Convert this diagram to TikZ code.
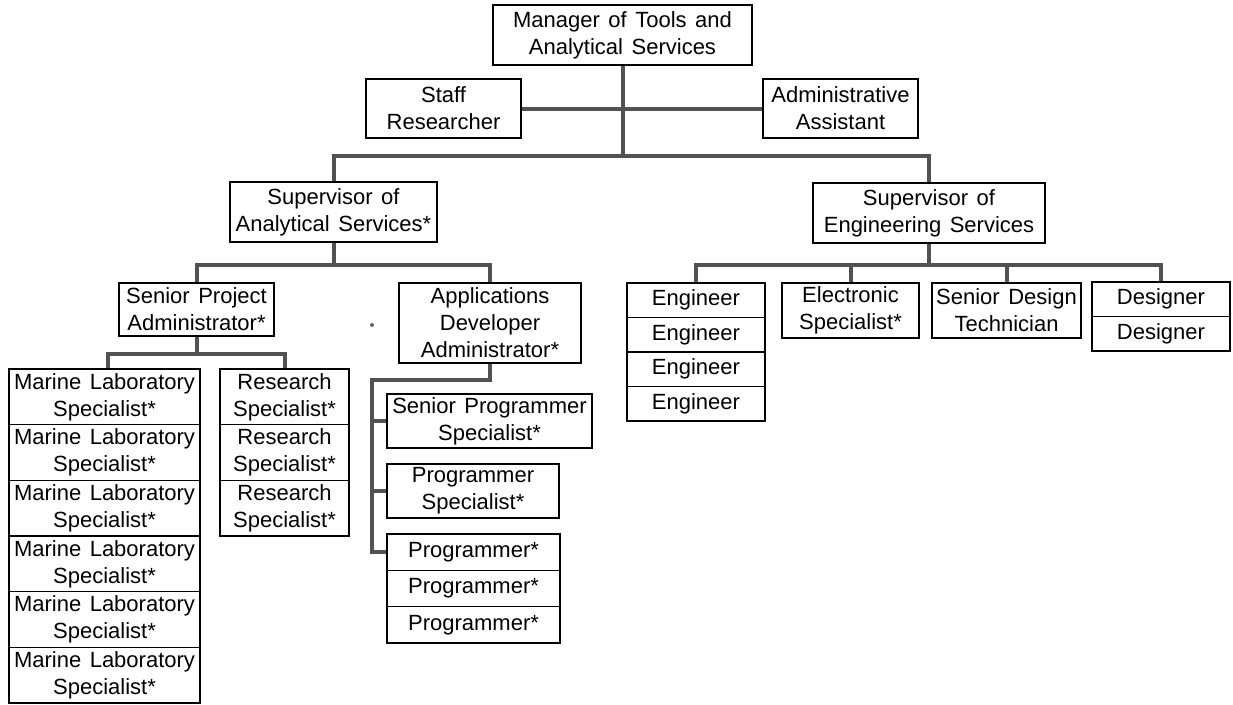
\documentclass[tikz,border=0pt]{standalone}
\usepackage{fontspec}
\setmainfont{Liberation Sans}[WordSpace=1.4]
\begin{document}
\begin{tikzpicture}[x=1pt,y=-1pt,
  box/.style={draw=black, line width=1.3pt, fill=white, align=center, inner sep=0pt,
    font=\fontsize{22}{27}\selectfont},
  conn/.style={draw=black!68, line width=4pt}]
\useasboundingbox (0,0) rectangle (1233,704);
% top
\node[box, minimum width=259pt, minimum height=60pt] (mgr) at (622.5,35) {Manager of Tools and\\Analytical Services};
\node[box, minimum width=155pt, minimum height=59pt] (staff) at (443.5,108.5) {Staff\\Researcher};
\node[box, minimum width=155pt, minimum height=59pt] (admin) at (840.5,108.5) {Administrative\\Assistant};
\node[box, minimum width=207pt, minimum height=60pt] (supA) at (333.5,212) {Supervisor of\\Analytical Services*};
\node[box, minimum width=232pt, minimum height=60pt] (supE) at (929,213) {Supervisor of\\Engineering Services};
% analytical side
\node[box, minimum width=155pt, minimum height=53pt] (spa) at (196.5,309.5) {Senior Project\\Administrator*};
\node[box, minimum width=182pt, minimum height=80pt] (ada) at (490,323) {Applications\\Developer\\Administrator*};
\foreach \i in {1,...,6}
  \node[box, minimum width=191pt, minimum height=55.67pt] (m\i) at (104.5,{369+55.67*(\i-0.5)}) {Marine Laboratory\\Specialist*};
\foreach \i in {1,...,3}
  \node[box, minimum width=129pt, minimum height=55.67pt] (r\i) at (284.5,{369+55.67*(\i-0.5)}) {Research\\Specialist*};
\node[box, minimum width=205pt, minimum height=54pt] (spr) at (489.5,421) {Senior Programmer\\Specialist*};
\node[box, minimum width=172pt, minimum height=54pt] (ps) at (473,491) {Programmer\\Specialist*};
\foreach \i in {1,...,3}
  \node[box, minimum width=173pt, minimum height=36.33pt] (p\i) at (473.5,{534+36.33*(\i-0.5)}) {Programmer*};
% engineering side
\foreach \i in {1,...,4}
  \node[box, minimum width=138pt, minimum height=34.5pt] (e\i) at (696,{283+34.5*(\i-0.5)}) {Engineer};
\node[box, minimum width=137pt, minimum height=55pt] (elec) at (850.5,310.5) {Electronic\\Specialist*};
\node[box, minimum width=149pt, minimum height=55pt] (sdt) at (1006.5,310.5) {Senior Design\\Technician};
\foreach \i in {1,...,2}
  \node[box, minimum width=138pt, minimum height=34.5pt] (d\i) at (1161,{282+34.5*(\i-0.5)}) {Designer};
% connectors
\draw[conn] (staff.east) -- (admin.west);
\draw[conn] (mgr.south) -- ++(0,90) -| (supA.north);
\draw[conn] (mgr.south) -- ++(0,90) -| (supE.north);
\draw[conn] (supA.south) -- ++(0,22) -| (spa.north);
\draw[conn] (supA.south) -- ++(0,22) -| (ada.north);
\draw[conn] (spa.south) -- ++(0,17.5) -| ([xshift=3.5pt]m1.north);
\draw[conn] (spa.south) -- ++(0,17.5) -| (r1.north);
\draw[conn] (ada.south) -- ++(0,16) -| ([xshift=-14pt]p1.west) -- (p1.west);
\draw[conn] (spr.west) -- ++(-14,0);
\draw[conn] (ps.west) -- ++(-14,0);
\draw[conn] (supE.south) -- ++(0,21) -| (e1.north);
\draw[conn] (supE.south) -- ++(0,21) -| (elec.north);
\draw[conn] (supE.south) -- ++(0,21) -| (sdt.north);
\draw[conn] (supE.south) -- ++(0,21) -| (d1.north);
\fill[black!60] (372,325) circle (2pt);
\end{tikzpicture}
\end{document}
